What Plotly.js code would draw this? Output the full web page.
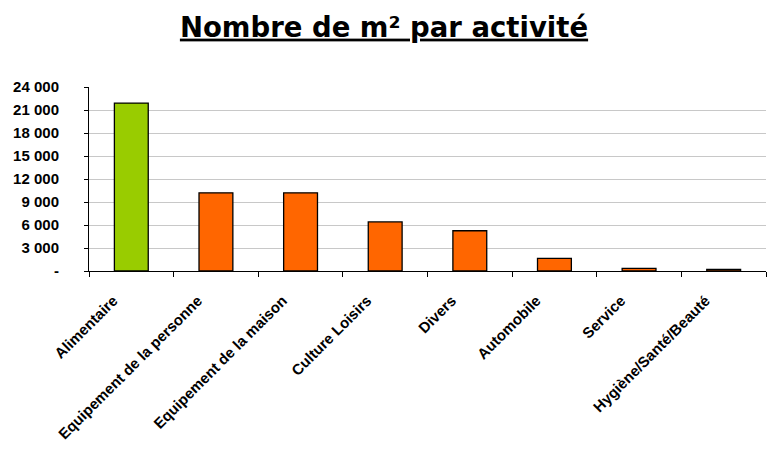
<!DOCTYPE html>
<html>
<head>
<meta charset="utf-8">
<script src="https://cdn.plot.ly/plotly-3.0.1.min.js"></script>
<style>html,body{margin:0;padding:0;background:#fff;}#chart{width:768px;height:450px;}</style>
</head>
<body>
<div id="chart"></div>
<script>
const categories = ["Alimentaire", "Equipement de la personne", "Equipement de la maison", "Culture Loisirs", "Divers", "Automobile", "Service", "Hygiène/Santé/Beauté"];
const values = [21900, 10200, 10200, 6400, 5250, 1650, 350, 220];
const barColors = ["#99CC00", "#FF6600", "#FF6600", "#FF6600", "#FF6600", "#FF6600", "#FF6600", "#FF6600"];
const yTickVals = [0, 3000, 6000, 9000, 12000, 15000, 18000, 21000, 24000];
const yTickText = ["-", "3 000", "6 000", "9 000", "12 000", "15 000", "18 000", "21 000", "24 000"];

const yFont = {family: "Liberation Sans, Arial, sans-serif", size: 15, color: "#000", weight: "bold"};
const xFont = {family: "Liberation Sans, Arial, sans-serif", size: 15, color: "#000", weight: "bold"};

Plotly.newPlot("chart", [{
  type: "bar",
  x: categories,
  y: values,
  marker: {color: barColors, line: {color: "#000", width: 1.3}},
  hoverinfo: "none"
}], {
  width: 768, height: 450,
  margin: {l: 89, r: 2, t: 87, b: 179, pad: 0},
  paper_bgcolor: "#fff", plot_bgcolor: "#fff",
  bargap: 0.6,
  showlegend: false,
  title: {
    text: "<u>Nombre de m² par activité</u>",
    font: {family: "DejaVu Sans, Verdana, sans-serif", size: 27.5, color: "#000", weight: "bold"},
    x: 0.5, xanchor: "center", xref: "container",
    y: 0.94, yanchor: "middle", yref: "container"
  },
  xaxis: {
    type: "category",
    tickangle: -45,
    tickfont: xFont,
    showline: true, linecolor: "#000", linewidth: 1,
    ticks: "outside", ticklen: 5, tickcolor: "#000",
    tickson: "boundaries",
    ticklabelshift: -18,
    ticklabelstandoff: 14,
    showgrid: false, zeroline: false
  },
  yaxis: {
    range: [0, 24000],
    tickvals: yTickVals, ticktext: yTickText,
    tickfont: yFont,
    showline: true, linecolor: "#000", linewidth: 1,
    ticks: "outside", ticklen: 4, tickcolor: "#000",
    ticklabelstandoff: 22,
    showgrid: true, gridcolor: "#c8c8c8", gridwidth: 1,
    zeroline: false
  }
}, {staticPlot: true});
</script>
</body>
</html>
